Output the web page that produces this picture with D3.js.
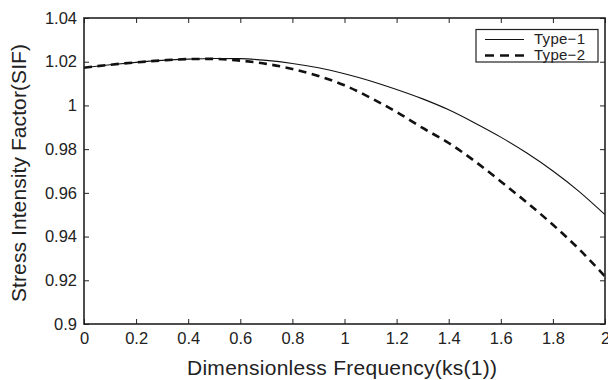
<!DOCTYPE html>
<html>
<head>
<meta charset="utf-8">
<script src="https://cdn.jsdelivr.net/npm/d3@7"></script>
<style>
  body { margin: 0; background: #fff; }
  text { font-family: 'Liberation Sans', Arial, sans-serif; fill: #222; }
</style>
</head>
<body>
<script>
const w = 608,
  h = 380;

const freq = [0, 0.1, 0.2, 0.3, 0.4, 0.5, 0.6, 0.7, 0.8, 0.9, 1.0,
  1.1, 1.2, 1.3, 1.4, 1.5, 1.6, 1.7, 1.8, 1.9, 2.0];
const type1 = [1.0173, 1.0186, 1.0197, 1.0206, 1.0212, 1.0215, 1.0214, 1.0206, 1.0192, 1.0172, 1.0145,
  1.0112, 1.0073, 1.0030, 0.9980, 0.9920, 0.9855, 0.9782, 0.9700, 0.9607, 0.9500];
const type2 = [1.0173, 1.0186, 1.0197, 1.0206, 1.0212, 1.0213, 1.0205, 1.0190, 1.0167, 1.0135, 1.0092,
  1.0035, 0.9970, 0.9897, 0.9828, 0.9745, 0.9652, 0.9556, 0.9454, 0.9343, 0.9218];
const xTicks = [0, 0.2, 0.4, 0.6, 0.8, 1, 1.2, 1.4, 1.6, 1.8, 2];
const yTicks = [0.9, 0.92, 0.94, 0.96, 0.98, 1, 1.02, 1.04];
const seriesNames = ['Type\u22121', 'Type\u22122'];

const mLeft = 84, mRight = 605, mTop = 18, mBottom = 324;

const x = d3.scaleLinear().domain([0, 2]).range([mLeft, mRight]);
const y = d3.scaleLinear().domain([0.9, 1.04]).range([mBottom, mTop]);

const svg = d3.select('body')
  .append('svg')
  .attr('width', w)
  .attr('height', h);

const line = d3.line()
  .x((d, i) => x(freq[i]))
  .y(d => y(d))
  .curve(d3.curveMonotoneX);

svg.append('path')
  .datum(type1)
  .attr('d', line)
  .attr('fill', 'none')
  .attr('stroke', '#111')
  .attr('stroke-width', 1.1);

svg.append('path')
  .datum(type2)
  .attr('d', line)
  .attr('fill', 'none')
  .attr('stroke', '#111')
  .attr('stroke-width', 2.6)
  .attr('stroke-dasharray', '8,5.5');

// axes, matlab style: ticks pointing inward on all four sides
const fmt = d => String(d);
const tk = 5;

svg.append('g')
  .attr('transform', `translate(0, ${mBottom})`)
  .call(d3.axisBottom(x).tickValues(xTicks).tickFormat(fmt).tickSizeInner(-tk).tickSizeOuter(0).tickPadding(8.5))
  .call(g => g.selectAll('text').attr('font-size', '16.5px').attr('font-family', null).attr('fill', '#222'));

svg.append('g')
  .attr('transform', `translate(0, ${mTop})`)
  .call(d3.axisTop(x).tickValues(xTicks).tickFormat('').tickSizeInner(-tk).tickSizeOuter(0));

svg.append('g')
  .attr('transform', `translate(${mLeft}, 0)`)
  .call(d3.axisLeft(y).tickValues(yTicks).tickFormat(fmt).tickSizeInner(-tk).tickSizeOuter(0).tickPadding(7))
  .call(g => g.selectAll('text').attr('font-size', '16.5px').attr('font-family', null).attr('fill', '#222'));

svg.append('g')
  .attr('transform', `translate(${mRight}, 0)`)
  .call(d3.axisRight(y).tickValues(yTicks).tickFormat('').tickSizeInner(-tk).tickSizeOuter(0));

svg.selectAll('.domain').remove();
svg.selectAll('.tick line').attr('stroke', '#222');

svg.append('rect')
  .attr('x', mLeft)
  .attr('y', mTop)
  .attr('width', mRight - mLeft)
  .attr('height', mBottom - mTop)
  .attr('fill', 'none')
  .attr('stroke', '#222')
  .attr('stroke-width', 1.6);

// axis titles
svg.append('text')
  .attr('x', 342)
  .attr('y', 375)
  .attr('text-anchor', 'middle')
  .attr('font-size', '21px')
  .attr('textLength', 310)
  .text('Dimensionless Frequency(ks(1))');

svg.append('text')
  .attr('transform', `translate(26, 173) rotate(-90)`)
  .attr('text-anchor', 'middle')
  .attr('font-size', '21px')
  .attr('textLength', 258)
  .text('Stress Intensity Factor(SIF)');

// legend
const lg = svg.append('g').attr('transform', 'translate(476, 29.5)');
lg.append('rect')
  .attr('width', 122)
  .attr('height', 32.5)
  .attr('fill', '#fff')
  .attr('stroke', '#222')
  .attr('stroke-width', 1.2);

seriesNames.forEach((name, i) => {
  const ly = 10 + i * 16;
  lg.append('line')
    .attr('x1', 9).attr('x2', 48)
    .attr('y1', ly).attr('y2', ly)
    .attr('stroke', '#111')
    .attr('stroke-width', i === 0 ? 1.1 : 2.6)
    .attr('stroke-dasharray', i === 0 ? null : '9,6');
  lg.append('text')
    .attr('x', 58)
    .attr('y', ly + 4.5)
    .attr('font-size', '15px')
    .attr('textLength', 51)
    .text(name);
});
</script>
</body>
</html>
